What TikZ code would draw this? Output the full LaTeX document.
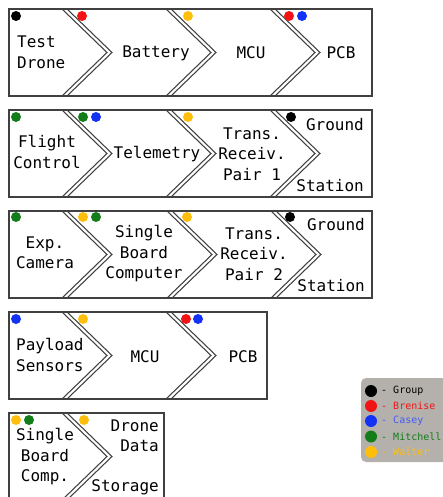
\documentclass[tikz,border=0pt]{standalone}
\usepackage{fontspec}
\newfontfamily\monofam{DejaVu Sans Mono}
\definecolor{edgegray}{RGB}{64,64,64}
\definecolor{dotred}{RGB}{240,20,20}
\definecolor{dotblue}{RGB}{20,50,245}
\definecolor{dotgreen}{RGB}{18,125,25}
\definecolor{dotyellow}{RGB}{255,190,10}
\definecolor{legendgray}{RGB}{180,177,172}
\tikzset{
  edge/.style={draw=edgegray, line width=1.05pt, line join=miter},
  lbl/.style={inner sep=0pt, font=\monofam\fontsize{16}{20.5}\selectfont, text=black},
  legtxt/.style={inner sep=0pt, anchor=west, font=\monofam\fontsize{10}{12}\selectfont},
}
% one divider: two parallel chevron strokes starting at x = #1 in a row whose top is #2
\newcommand\chevdiv[2]{%
  \draw[edge] (#1,#2) -- ({#1+45},{#2+43.5}) -- (#1,{#2+87});
  \draw[edge] ({#1+5},#2) -- ({#1+50},{#2+43.5}) -- ({#1+5},{#2+87});
}
\newcommand\tdot[3]{\fill[#1] (#2,#3) circle (5);}
\begin{document}
\begin{tikzpicture}[x=1pt,y=-1pt]
\useasboundingbox (0,0) rectangle (443,497);
\clip (0,0) rectangle (443,497);
\fill[white] (0,0) rectangle (443,497);

% ---- row 1: Test Drone
\draw[edge] (9,9) rectangle (372,96);
\chevdiv{62}{9}\chevdiv{166}{9}\chevdiv{270}{9}
\node[lbl, anchor=west, align=left] (td) at (17,52.5) {Test\\Drone};
\node[lbl] (bat) at (156,53) {Battery};
\node[lbl] (mcu1) at (251,53) {MCU};
\node[lbl] (pcb1) at (341,53) {PCB};
\tdot{black}{16}{16}\tdot{dotred}{82}{16}\tdot{dotyellow}{188}{16}
\tdot{dotred}{289}{16}\tdot{dotblue}{302}{16}

% ---- row 2: Flight Control
\draw[edge] (9,110) rectangle (372,197);
\chevdiv{62}{110}\chevdiv{166}{110}\chevdiv{270}{110}
\node[lbl, align=center] (fc) at (47,152) {Flight\\Control};
\node[lbl] (tel) at (157,154) {Telemetry};
\node[lbl, align=center] (trp1) at (252,154) {Trans.\\Receiv.\\Pair 1};
\node[lbl, anchor=east] (gnd1) at (364,125) {Ground};
\node[lbl, anchor=east] (sta1) at (364,186) {Station};
\tdot{dotgreen}{16}{117}\tdot{dotgreen}{83}{117}\tdot{dotblue}{96}{117}
\tdot{dotyellow}{188}{117}\tdot{black}{291}{117}

% ---- row 3: Exp. Camera
\draw[edge] (9,211) rectangle (372,298);
\chevdiv{62}{211}\chevdiv{167}{211}\chevdiv{271}{211}
\node[lbl, align=center] (cam) at (45,253) {Exp.\\Camera};
\node[lbl, align=center] (sbc) at (144,254) {Single\\Board\\Computer};
\node[lbl, align=center] (trp2) at (254,254) {Trans.\\Receiv.\\Pair 2};
\node[lbl, anchor=east] (gnd2) at (365,225) {Ground};
\node[lbl, anchor=east] (sta2) at (365,286) {Station};
\tdot{dotgreen}{16}{217}\tdot{dotyellow}{83}{217}\tdot{dotgreen}{96}{217}
\tdot{dotyellow}{187}{217}\tdot{black}{290}{217}

% ---- row 4: Payload Sensors
\draw[edge] (9,312) rectangle (267,399);
\chevdiv{62}{312}\chevdiv{166}{312}
\node[lbl, anchor=west, align=left] (pls) at (16,355) {Payload\\Sensors};
\node[lbl] (mcu2) at (145,357) {MCU};
\node[lbl] (pcb2) at (243,357) {PCB};
\tdot{dotblue}{16}{319}\tdot{dotyellow}{83}{319}
\tdot{dotred}{186}{319}\tdot{dotblue}{198}{319}

% ---- row 5: Single Board Comp.
\draw[edge] (9,413) rectangle (164,500);
\chevdiv{62}{413}
\node[lbl, align=center] (sbc2) at (45,457) {Single\\Board\\Comp.};
\node[lbl, anchor=east, align=right] (dd) at (159,436) {Drone\\Data};
\node[lbl, anchor=east] (sto) at (159,487) {Storage};
\tdot{dotyellow}{16}{420}\tdot{dotgreen}{29}{420}\tdot{dotyellow}{84}{420}

% ---- legend
\fill[legendgray, rounded corners=5pt] (361,378) rectangle (455,462);
\fill[black] (371,391) circle (6);
\fill[dotred] (371,406) circle (6);
\fill[dotblue] (371,421) circle (6);
\fill[dotgreen] (371,436.5) circle (6);
\fill[dotyellow] (371,452) circle (6);
\node[legtxt, text=black] (lg) at (381,391) {- Group};
\node[legtxt, text=dotred] (lb) at (381,406) {- Brenise};
\node[legtxt, text=dotblue!80!white] (lc) at (381,421) {- Casey};
\node[legtxt, text=dotgreen] (lm) at (381,436.5) {- Mitchell};
\node[legtxt, text=dotyellow] (lw) at (381,452) {- Walter};
\end{tikzpicture}
\end{document}
